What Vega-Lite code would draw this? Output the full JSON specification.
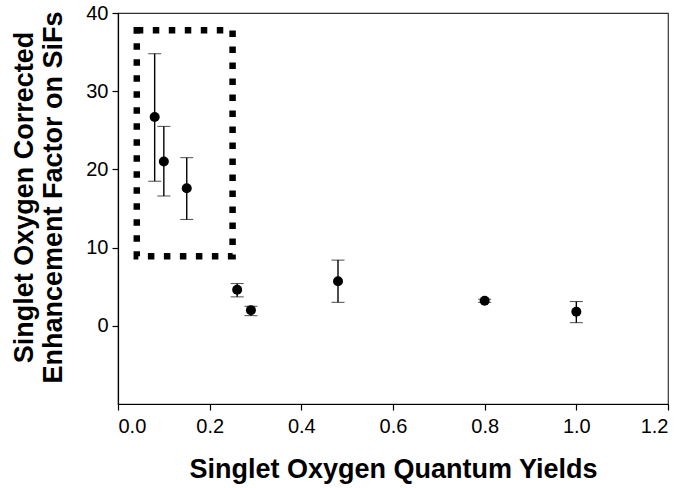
{
  "$schema": "https://vega.github.io/schema/vega-lite/v6.json",
  "autosize": {"type": "none"},
  "padding": {"left": 118, "top": 13, "right": 17, "bottom": 84},
  "width": 550,
  "height": 391,
  "background": "white",
  "config": {
    "view": {"stroke": "#333", "strokeWidth": 1.2},
    "font": "Liberation Sans",
    "axis": {
      "grid": false,
      "domainColor": "black",
      "domainWidth": 1.2,
      "tickColor": "black",
      "tickWidth": 1.2,
      "labelColor": "black",
      "titleColor": "black",
      "labelFont": "Liberation Sans",
      "titleFont": "Liberation Sans",
      "labelFontSize": 20,
      "titleFontSize": 27,
      "titleFontWeight": "bold",
      "tickSize": 6
    }
  },
  "datasets": {
    "pts": [
      {"qy": 0.08, "ef": 26.7, "lo": 18.5, "hi": 34.8},
      {"qy": 0.10, "ef": 21.0, "lo": 16.6, "hi": 25.5},
      {"qy": 0.15, "ef": 17.6, "lo": 13.6, "hi": 21.5},
      {"qy": 0.26, "ef": 4.6, "lo": 3.7, "hi": 5.4},
      {"qy": 0.29, "ef": 2.0, "lo": 1.3, "hi": 2.5},
      {"qy": 0.48, "ef": 5.7, "lo": 3.0, "hi": 8.4},
      {"qy": 0.80, "ef": 3.2, "lo": 3.0, "hi": 3.4},
      {"qy": 1.00, "ef": 1.8, "lo": 0.4, "hi": 3.1}
    ],
    "box": [
      {"x1": 0.041, "x2": 0.25, "y1": 8.9, "y2": 37.8}
    ]
  },
  "encoding": {
    "x": {
      "type": "quantitative",
      "scale": {"domain": [0, 1.2]},
      "axis": {"values": [0, 0.2, 0.4, 0.6, 0.8, 1.0, 1.2], "format": ".1f", "labelPadding": 6, "title": "Singlet Oxygen Quantum Yields", "titlePadding": 20}
    },
    "y": {
      "type": "quantitative",
      "scale": {"domain": [-10, 40]},
      "axis": {"values": [0, 10, 20, 30, 40], "labelPadding": 4, "title": ["Singlet Oxygen Corrected", "Enhancement Factor on SiFs"], "titlePadding": 18, "titleLineHeight": 29, "titleY": 184}
    }
  },
  "layer": [
    {
      "data": {"name": "box"},
      "mark": {"type": "rect", "fill": null, "stroke": "black", "strokeWidth": 6.5, "strokeDash": [6.5, 9.5]},
      "encoding": {
        "x": {"field": "x1", "type": "quantitative", "title": "Singlet Oxygen Quantum Yields"},
        "x2": {"field": "x2"},
        "y": {"field": "y1", "type": "quantitative", "title": ["Singlet Oxygen Corrected", "Enhancement Factor on SiFs"]},
        "y2": {"field": "y2"}
      }
    },
    {
      "data": {"name": "pts"},
      "mark": {"type": "errorbar", "ticks": {"size": 13, "color": "black", "strokeWidth": 1.4}, "rule": {"color": "black", "strokeWidth": 1.4}},
      "encoding": {
        "x": {"field": "qy", "type": "quantitative", "title": "Singlet Oxygen Quantum Yields"},
        "y": {"field": "lo", "type": "quantitative", "title": ["Singlet Oxygen Corrected", "Enhancement Factor on SiFs"]},
        "y2": {"field": "hi"}
      }
    },
    {
      "data": {"name": "pts"},
      "mark": {"type": "circle", "color": "black", "opacity": 1, "size": 100},
      "encoding": {
        "x": {"field": "qy", "type": "quantitative", "title": "Singlet Oxygen Quantum Yields"},
        "y": {"field": "ef", "type": "quantitative", "title": ["Singlet Oxygen Corrected", "Enhancement Factor on SiFs"]}
      }
    }
  ]
}
